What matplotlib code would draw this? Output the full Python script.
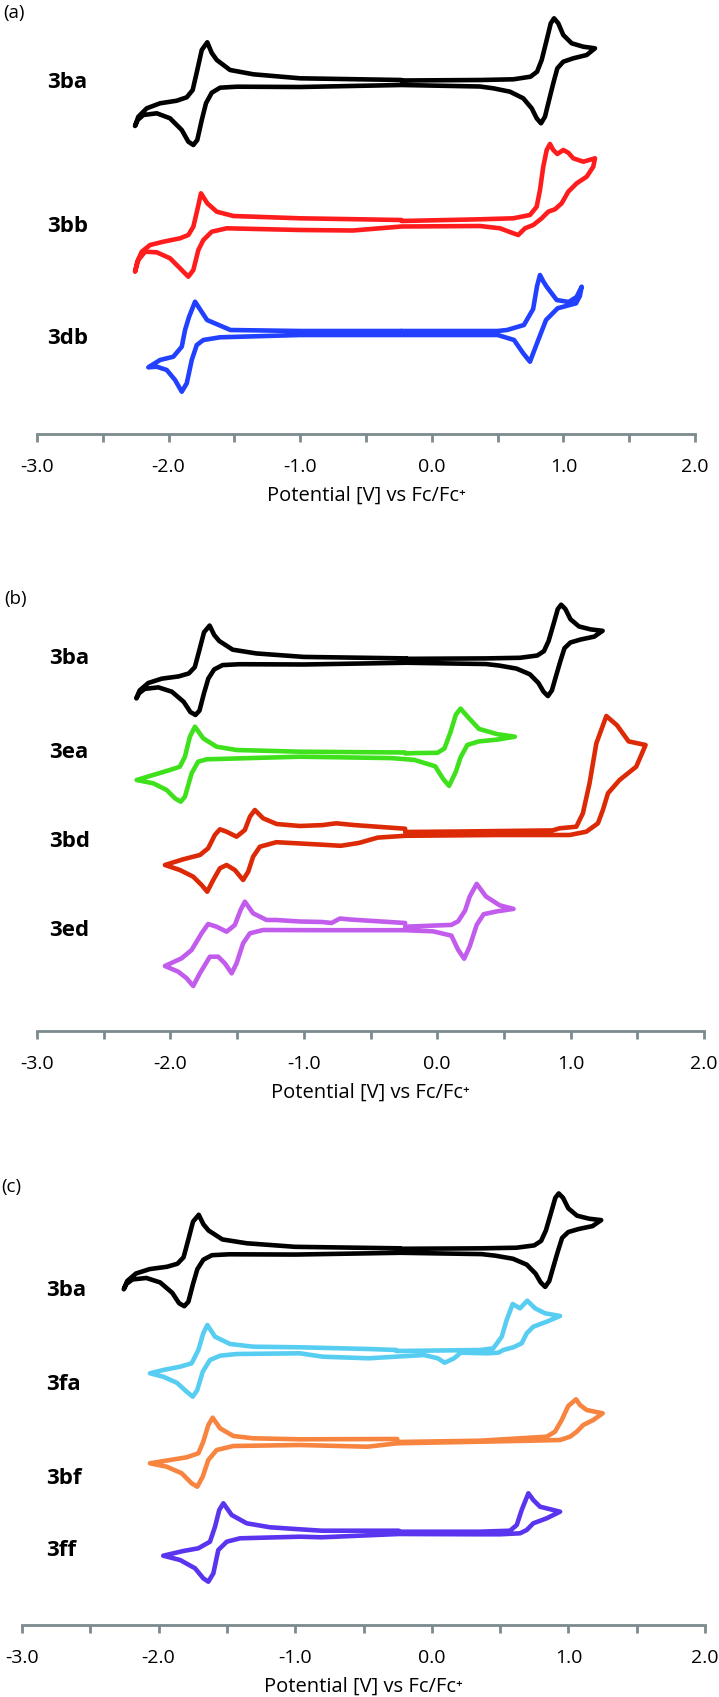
import matplotlib
matplotlib.use('Agg')
import matplotlib.pyplot as plt
import numpy as np

# ---------------- data (potential in V vs Fc/Fc+, current in arbitrary units) --------------
# 3ba (same measurement re-used in all three panels)
V_3ba = [-0.23, 0.37, 0.62, 0.75, 0.80, 0.835, 0.873, 0.904, 0.929, 0.961, 0.999, 1.063, 1.151, 1.240,
         1.177, 1.075, 0.999, 0.954, 0.923, 0.885, 0.860, 0.830, 0.797, 0.759, 0.695, 0.594, 0.467, 0.366,
         -0.23, -1.0, -1.482, -1.609, -1.672, -1.716, -1.748, -1.782, -1.812, -1.850, -1.900, -1.989,
         -2.090, -2.192, -2.235, -2.255, -2.230, -2.166, -2.065, -1.938, -1.862, -1.817, -1.782, -1.748,
         -1.706, -1.672, -1.634, -1.533, -1.356, -1.001, -0.23]
I_3ba = [2.5, 3, 3.7, 6.3, 11.3, 23, 43, 59.7, 64.7, 59.7, 48, 39.7, 36.3, 34.7,
         28, 24.7, 21.3, 14.7, -0.3, -20.3, -33.7, -40.3, -35.3, -25.3, -15.3, -8.7, -5.3, -3.5,
         -2, -4, -3.7, -4.7, -9.7, -20.3, -37, -57, -62, -58.7, -47, -35.3,
         -30.3, -32, -37, -43, -33.7, -25.3, -20.3, -17.7, -14.3, -7, 13, 33,
         40.7, 30, 23, 13, 8.7, 4.7, 3]

V_3bb = [-0.23, 0.366, 0.619, 0.746, 0.797, 0.822, 0.847, 0.873, 0.898, 0.923, 0.954, 0.999, 1.037,
         1.075, 1.151, 1.240, 1.227, 1.177, 1.101, 1.037, 0.987, 0.936, 0.885, 0.835, 0.771, 0.708,
         0.657, 0.607, 0.518, 0.366, -0.23, -0.6, -1.001, -1.558, -1.672, -1.736, -1.774, -1.812,
         -1.850, -1.913, -1.989, -2.090, -2.179, -2.230, -2.255, -2.238, -2.204, -2.141, -2.040,
         -1.913, -1.850, -1.812, -1.782, -1.754, -1.706, -1.634, -1.508, -1.001, -0.23]
I_3bb = [3, 4.7, 5.7, 9, 17.3, 34, 57.3, 74, 80, 74, 70, 74, 71.3,
         65.7, 62.3, 65.7, 57.3, 47.3, 40.7, 32.3, 20.7, 14.7, 12.3, 5.7, -1, -4.3,
         -11, -8.7, -4.3, -2, -2.5, -6.5, -6, -4.3, -7.7, -16, -26, -46,
         -52.7, -44.3, -34.3, -28.3, -27.7, -36, -47.7, -37.7, -27.7, -21, -17.7,
         -14.3, -11, -2.7, 14, 30.7, 20.7, 12.3, 8, 5.7, 4]

V_3db = [-0.23, 0.50, 0.572, 0.70, 0.77, 0.80, 0.822, 0.85, 0.873, 0.949, 1.04, 1.10, 1.139, 1.125,
         1.096, 0.956, 0.868, 0.800, 0.746, 0.693, 0.625, 0.501, -0.23, -1.0, -1.609, -1.736, -1.786,
         -1.824, -1.862, -1.900, -1.951, -2.014, -2.090, -2.154, -2.065, -1.964, -1.900, -1.875, -1.845,
         -1.799, -1.708, -1.530, -1.0, -0.23]
I_3db = [3, 3, 4, 9, 25, 48, 59, 52, 47.3, 34, 32, 37, 47.3, 38,
         30.7, 25.7, 14, -9, -27.7, -19, -6, -1, -1, -1, -3.3, -6, -11,
         -26, -49.3, -57.7, -46, -36, -32.7, -33.3, -26, -22.7, -12.7, 4, 17,
         32.3, 14, 4, 3, 3]

V_3ea = [-0.24, -0.171, 0.002, 0.054, 0.099, 0.140, 0.175, 0.226, 0.313, 0.451, 0.582, 0.451, 0.313,
         0.226, 0.175, 0.140, 0.089, 0.044, -0.015, -0.171, -0.343, -1.030, -1.729, -1.792, -1.841,
         -1.891, -1.923, -1.966, -2.028, -2.129, -2.253, -2.129, -2.004, -1.929, -1.891, -1.854,
         -1.816, -1.754, -1.654, -1.504, -1.030, -0.24]
I_3ea = [0.5, 0.9, 1.2, 5.5, 21.6, 39.4, 45.4, 37.6, 25.1, 19.8, 17.3, 14.4, 12.6,
         9.1, -3.4, -17.6, -31.9, -24.8, -12.3, -5.9, -4.1, -2.7, -5.3, -7.7, -19.3,
         -42.7, -47.7, -44.3, -36, -29.3, -26, -21, -16, -12.7, -2.7, 17.3,
         27.3, 15.7, 7.3, 4, 2.3, 1.5]

V_3bd = [-0.24, 0.175, 0.865, 0.918, 1.043, 1.092, 1.142, 1.193, 1.268, 1.348, 1.435, 1.562, 1.492,
         1.367, 1.280, 1.242, 1.205, 1.118, 0.993, 0.44, -0.24, -0.446, -0.585, -0.723, -0.861, -1.206,
         -1.329, -1.380, -1.417, -1.455, -1.517, -1.579, -1.629, -1.679, -1.724, -1.766, -1.829, -1.929,
         -2.041, -1.904, -1.779, -1.717, -1.667, -1.629, -1.579, -1.504, -1.442, -1.404, -1.367, -1.305,
         -1.204, -1.030, -0.861, -0.757, -0.705, -0.619, -0.24]
I_3bd = [0, 0.5, 1.6, 3.7, 5.3, 18.7, 48.7, 88.7, 116, 106.7, 90.6, 87, 65.3,
         52, 38.7, 22, 8.7, 0.3, -3, -3, -3.8, -5.6, -10.9, -13.8, -12.7, -10.2,
         -14.7, -24.7, -39.7, -48, -38, -33, -36.3, -48, -59.7, -53, -44.7, -38,
         -33, -27.3, -23, -16.3, -3, 2.7, 0.3, -4.7, 2, 15.3, 22, 13.7,
         8, 6, 6.9, 8.7, 8, 6.9, 3.3]

V_3ed = [-0.24, 0.106, 0.157, 0.209, 0.244, 0.296, 0.365, 0.468, 0.572, 0.451, 0.348, 0.296, 0.244,
         0.202, 0.157, 0.106, -0.032, -0.24, -0.861, -1.305, -1.404, -1.455, -1.504, -1.541, -1.592,
         -1.642, -1.704, -1.779, -1.829, -1.878, -1.941, -2.041, -1.916, -1.841, -1.766, -1.717, -1.654,
         -1.579, -1.517, -1.474, -1.442, -1.380, -1.279, -1.206, -1.030, -0.861, -0.792, -0.729, -0.654,
         -0.24]
I_3ed = [-0.7, 1.1, 4.7, 15.4, 29.6, 42.1, 29.6, 20.7, 17.1, 14.7, 11.8, 1.1, -20.3,
         -32.7, -23.8, -9.6, -5.3, -4.2, -4.2, -4, -7.3, -17.3, -37.3, -47.3, -37.3,
         -30.7, -30.7, -47.3, -60, -52.3, -45.7, -40, -32.3, -24, -7.3, 2, -0.7,
         -5.7, 1, 16, 24.3, 12.7, 6, 6, 4.5, 4, 3, 7.5, 6.5,
         3]

V_3fa = [-0.26, 0.353, 0.450, 0.512, 0.548, 0.592, 0.646, 0.699, 0.756, 0.829, 0.939, 0.841, 0.743,
         0.695, 0.658, 0.597, 0.523, 0.487, 0.402, 0.212, 0.163, 0.094, 0.044, -0.057, -0.462, -0.799,
         -0.965, -1.428, -1.550, -1.624, -1.677, -1.717, -1.750, -1.794, -1.867, -1.966, -2.063, -1.966,
         -1.843, -1.758, -1.709, -1.673, -1.643, -1.587, -1.477, -1.307, -0.965, -0.462, -0.26]
I_3fa = [0, 1, 2.7, 14.3, 31, 47, 42.7, 50.3, 42.7, 37.7, 35, 29.3, 24.3,
         17.7, 7.7, 3.7, 1, -1.7, -2.3, -1.7, -7.3, -11.7, -7.3, -4, -7.3, -5.7,
         -2.3, -3, -4.7, -9, -20.7, -39, -45.7, -40.7, -31.7, -25.7, -22.3, -19,
         -15.7, -12.3, 1, 17.7, 26, 14.3, 7, 4.3, 3.7, 2, 1]

V_3bf = [-0.253, 0.353, 0.841, 0.902, 0.951, 0.999, 1.056, 1.085, 1.134, 1.251, 1.182, 1.109, 1.061,
         1.012, 0.939, 0.719, 0.353, -0.253, -0.471, -0.965, -1.453, -1.575, -1.636, -1.677, -1.717,
         -1.758, -1.831, -1.941, -2.063, -1.916, -1.794, -1.709, -1.673, -1.636, -1.604, -1.550, -1.453,
         -1.307, -0.965, -0.253]
I_3bf = [0, 1.3, 5.3, 10.3, 22, 36, 42.7, 37, 32, 28.7, 22, 17, 10.3,
         5.3, 2, 1.3, 0.3, -1.3, -4.7, -3, -4, -8, -18, -34.7, -44.7,
         -41.3, -31.3, -24.7, -21.3, -18, -15.3, -11.3, 0.3, 17, 24.3, 13.7, 6,
         3.7, 2.7, 3]

V_3ff = [-0.242, 0.353, 0.573, 0.622, 0.658, 0.707, 0.743, 0.792, 0.939, 0.841, 0.743, 0.695, 0.646,
         0.499, 0.353, -0.242, -0.807, -0.965, -1.404, -1.501, -1.563, -1.599, -1.636, -1.673, -1.733,
         -1.843, -1.966, -1.819, -1.709, -1.624, -1.587, -1.556, -1.526, -1.465, -1.355, -1.184, -0.965,
         -0.807, -0.242]
I_3ff = [1.3, 1.3, 2.3, 8, 23, 39.7, 33, 26.3, 21.3, 14.7, 9.7, 3, -0.3,
         -1.3, -1.3, -1, -4.3, -3.7, -5.3, -8.7, -17, -40.3, -48.7, -45.3, -35.3,
         -27, -22.7, -18, -15.3, -8.7, 6.3, 23, 29.7, 18, 9.7, 5.7, 3.7,
         2.3, 2.3]

tick_values = [-3.0, -2.0, -1.0, 0.0, 1.0, 2.0]
tick_labels = ['-3.0', '-2.0', '-1.0', '0.0', '1.0', '2.0']
xlabel_text = 'Potential [V] vs Fc/Fc\u207a'

# ---------------- layout / style ------------------------------------------------------------
W, H, DPI = 719, 1697, 100
AXIS_COLOR = '#7b8a8e'
FONT = ['Open Sans', 'DejaVu Sans']
LW = 3.3

panels = [
    dict(letter='(a)', letter_xy=(3, 13), left=37, right=695, top=0, axis=434,
         curves=[('3ba', V_3ba, I_3ba, '#000000', 83, 1.0, 83),
                 ('3bb', V_3bb, I_3bb, '#ff1c1c', 224, 1.0, 227),
                 ('3db', V_3db, I_3db, '#2140ff', 334, 1.0, 338)],
         label_x=47),
    dict(letter='(b)', letter_xy=(4, 599), left=37, right=704, top=560, axis=1031,
         curves=[('3ba', V_3ba, I_3ba, '#000000', 661, 0.87, 658),
                 ('3ea', V_3ea, I_3ea, '#3fe01c', 754, 1.0, 753),
                 ('3bd', V_3bd, I_3bd, '#dc2a06', 832, 1.0, 841),
                 ('3ed', V_3ed, I_3ed, '#c25cec', 926, 1.0, 930)],
         label_x=49),
    dict(letter='(c)', letter_xy=(1, 1187), left=22, right=705, top=1190, axis=1625,
         curves=[('3ba', V_3ba, I_3ba, '#000000', 1251, 0.89, 1290),
                 ('3fa', V_3fa, I_3fa, '#58cdf2', 1351, 1.0, 1384),
                 ('3bf', V_3bf, I_3bf, '#f7843f', 1442, 1.0, 1478),
                 ('3ff', V_3ff, I_3ff, '#5a34ee', 1533, 1.0, 1550)],
         label_x=46),
]

fig = plt.figure(figsize=(W / DPI, H / DPI), dpi=DPI)
fig.patch.set_facecolor('white')


def fx(px):
    return px / W


def fy(py):
    return 1 - py / H


for p in panels:
    height = p['axis'] - p['top']
    ax = fig.add_axes([fx(p['left']), fy(p['axis']), (p['right'] - p['left']) / W, height / H])
    ax.set_xlim(-3.0, 2.0)
    ax.set_ylim(0, height)
    ax.patch.set_alpha(0)
    for s in ['top', 'left', 'right']:
        ax.spines[s].set_visible(False)
    ax.spines['bottom'].set_color(AXIS_COLOR)
    ax.spines['bottom'].set_linewidth(2.0)
    ax.set_yticks([])
    ax.set_xticks(tick_values)
    ax.set_xticklabels(tick_labels, fontsize=14, family=FONT)
    ax.set_xticks(np.arange(-2.5, 2.0, 1.0), minor=True)
    ax.tick_params(axis='x', which='both', direction='out', length=5.5, width=2.0,
                   color=AXIS_COLOR, pad=12)
    ax.set_xlabel(xlabel_text, fontsize=14.5, family=FONT, labelpad=7)

    for name, V, I, color, mid, scale, label_y in p['curves']:
        y = (p['axis'] - mid) + scale * np.asarray(I, dtype=float)
        ax.plot(V, y, color=color, lw=LW, solid_joinstyle='round', solid_capstyle='round')
        fig.text(fx(p['label_x']), fy(label_y), name, fontsize=16, fontweight='bold',
                 family=FONT, ha='left', va='center')

    lx, ly = p['letter_xy']
    fig.text(fx(lx), fy(ly), p['letter'], fontsize=13.5, family=FONT, ha='left', va='center')

fig.savefig('out.png', dpi=DPI, facecolor='white')
